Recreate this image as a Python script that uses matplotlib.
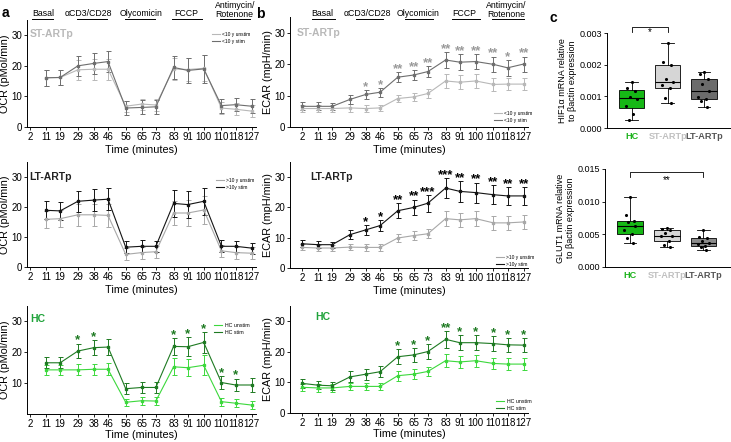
import matplotlib
matplotlib.use("Agg")
import matplotlib.pyplot as plt
import matplotlib.transforms as mtrans
from matplotlib.lines import Line2D
import numpy as np

plt.rcParams['font.family'] = ['Liberation Sans', 'DejaVu Sans']

W, H = 731, 442

times = [2, 11, 19, 29, 38, 46, 56, 65, 73, 83, 91, 100, 110, 118, 127]
ocr_times = times[1:]

# OCR (pMol/min), panel a -- no reading at 2 min
ocr_st_unstim = [16.1, 16.2, 18.7, 18.9, 18.9, 6.8, 7.5, 7.2, 19, 18.8, 19.2, 6.2, 5.8, 5.2]
ocr_st_unstim_err = [2.6, 2.6, 3.2, 3.4, 3.5, 1.8, 1.8, 2, 3.6, 3.8, 4.2, 2, 2, 2]
ocr_st_stim = [16.1, 16.2, 20, 20.8, 21.4, 6.2, 6.4, 6.6, 19.5, 18.5, 19, 7, 7.3, 6.8]
ocr_st_stim_err = [2.6, 2.6, 3.2, 3.4, 3.5, 2.2, 2.3, 2.3, 3.8, 4.2, 4.5, 2.3, 2.2, 2.2]

ocr_lt_unstim = [15.9, 16.1, 17.4, 17.4, 17.2, 4.2, 4.8, 5.1, 18, 18, 19, 5.4, 4.8, 4.6]
ocr_lt_unstim_err = [2.8, 2.8, 3.6, 3.6, 3.7, 2, 2, 2, 4, 4.3, 4.6, 2, 2, 2]
ocr_lt_stim = [18.9, 18.7, 21.9, 22.3, 22.6, 6.6, 6.9, 6.9, 21.2, 20.8, 21.9, 6.9, 6.9, 6.3]
ocr_lt_stim_err = [3, 3, 3.5, 3.7, 3.6, 2, 2, 1.8, 4.4, 4.6, 4.5, 2, 1.8, 1.8]

ocr_hc_unstim = [14.3, 14.3, 14.3, 14.5, 14.5, 3.8, 4.3, 4.2, 15.3, 15, 15.8, 4, 3.5, 2.9]
ocr_hc_unstim_err = [1.6, 1.6, 1.8, 1.8, 1.9, 1.1, 1.3, 1.2, 2.8, 2.8, 3.2, 1.3, 1.3, 1.2]
ocr_hc_stim = [16.6, 16.6, 20.4, 21.5, 21.7, 8.2, 8.6, 8.6, 21.9, 21.8, 23.2, 10.2, 9.4, 9.4]
ocr_hc_stim_err = [1.8, 1.8, 2.4, 2.5, 2.6, 1.8, 1.8, 1.8, 2.8, 3, 3.4, 2.2, 2.1, 2.2]
ocr_hc_sig = ["", "", "*", "*", "", "", "", "", "*", "*", "*", "*", "*", ""]

# ECAR (mpH/min), panel b
ecar_st_unstim = [5.9, 5.9, 5.9, 6.1, 5.9, 6.1, 9.1, 9.6, 10.7, 14.7, 14.3, 14.7, 13.6, 13.7, 13.7]
ecar_st_unstim_err = [1.1, 1.1, 1.1, 1.2, 1.0, 1.0, 1.2, 1.2, 1.3, 2.2, 2.2, 2.3, 2.0, 2.0, 2.0]
ecar_st_stim = [6.6, 6.6, 6.6, 8.8, 10.4, 11.1, 15.9, 16.6, 17.7, 21.4, 20.7, 20.9, 20, 18.9, 20.1]
ecar_st_stim_err = [1.3, 1.3, 1.2, 1.4, 1.4, 1.4, 1.6, 1.6, 1.8, 2.4, 2.6, 2.5, 2.5, 2.6, 2.4]
ecar_st_sig = ["", "", "", "", "*", "*", "**", "**", "**", "**", "**", "**", "**", "*", "**"]

ecar_lt_unstim = [6.8, 6.6, 6.6, 6.9, 6.8, 6.8, 9.9, 10.7, 11.3, 16.3, 15.9, 16.3, 14.9, 14.9, 15.2]
ecar_lt_unstim_err = [1, 1, 1, 1.1, 1.1, 1.1, 1.4, 1.5, 1.5, 2.4, 2.4, 2.4, 2.3, 2.2, 2.2]
ecar_lt_stim = [8, 7.7, 7.7, 11, 12.6, 14, 18.9, 20, 21.4, 26.4, 25.3, 24.9, 24.2, 23.8, 23.8]
ecar_lt_stim_err = [1.2, 1.1, 1.0, 1.4, 1.6, 1.8, 2.4, 2.6, 2.8, 3.2, 3.4, 3.3, 3.1, 3.0, 3.0]
ecar_lt_sig = ["", "", "", "", "*", "*", "**", "**", "***", "***", "**", "**", "**", "**", "**"]

ecar_hc_unstim = [8.4, 8.2, 8.2, 8.7, 8.7, 8.7, 12.2, 12.7, 13.6, 17.1, 16.7, 17.1, 16.2, 16, 16]
ecar_hc_unstim_err = [1.2, 1.2, 1.2, 1.2, 1.2, 1.2, 1.6, 1.6, 1.6, 2.2, 2.0, 2.0, 1.9, 1.9, 1.9]
ecar_hc_stim = [9.7, 9.1, 8.9, 11.8, 12.7, 13.5, 18.4, 19, 20.1, 24.1, 23, 23, 22.7, 22.3, 22.2]
ecar_hc_stim_err = [1.5, 1.4, 1.4, 1.8, 1.8, 1.8, 2.4, 2.3, 2.4, 2.7, 2.4, 2.5, 2.4, 2.3, 2.3]
ecar_hc_sig = ["", "", "", "", "", "", "*", "*", "*", "**", "*", "*", "*", "*", "*"]

# panel c, mRNA relative to beta-actin
groups = ["HC", "ST-ARTp", "LT-ARTp"]
hif1a_hc = [0.00146, 0.00125, 0.00118, 0.00097, 0.00092, 0.00070, 0.00045, 0.00025]
hif1a_st = [0.0027, 0.00207, 0.0020, 0.00155, 0.00145, 0.00135, 0.00125, 0.00095, 0.00078]
hif1a_lt = [0.00178, 0.00172, 0.00155, 0.00138, 0.00118, 0.00097, 0.00092, 0.00085, 0.00065]
glut1_hc = [0.0107, 0.0080, 0.0071, 0.0069, 0.0062, 0.0057, 0.0050, 0.0045, 0.0037]
glut1_st = [0.0060, 0.0058, 0.0056, 0.0052, 0.0048, 0.0047, 0.0040, 0.0034, 0.0030]
glut1_lt = [0.0056, 0.0046, 0.0044, 0.0040, 0.0037, 0.0035, 0.0032, 0.0030, 0.0026]
jitter = [0.0, -0.12, 0.1, -0.05, 0.14, -0.15, 0.05, -0.08, 0.08]

treatments = ["Basal", "\u03b1CD3/CD28", "Olycomicin", "FCCP", "Antimycin/\nRotenone"]

GREEN = "#1fa33a"
DKGREEN = "#1e7a22"
LTGREEN = "#3cd83c"

fig = plt.figure(figsize=(W / 100, H / 100), dpi=100)


def px_ax(l, t, r, b):
    return fig.add_axes([l / W, 1 - b / H, (r - l) / W, (b - t) / H])


def ftext(x, y, s, **kw):
    fig.text(x / W, 1 - y / H, s, **kw)


def line_panel(ax, t, unstim, e_u, stim, e_s, c_u, c_s, xlim, ylabel, sig=None,
               sig_color="k", xpad=2):
    ax.errorbar(t, unstim, yerr=e_u, color=c_u, lw=0.8, elinewidth=0.7, capsize=1.8,
                capthick=0.7, marker="s", ms=1.5)
    ax.errorbar(t, stim, yerr=e_s, color=c_s, lw=0.8, elinewidth=0.7, capsize=1.8,
                capthick=0.7, marker="s", ms=1.5)
    if sig:
        for x, m, e, s in zip(t, stim, e_s, sig):
            if s:
                ax.text(x, m + e, s, ha="center", va="baseline", fontsize=9.5,
                        color=sig_color, fontweight="bold")
    ax.set_xlim(*xlim)
    ax.set_ylim(0, 35)
    ax.set_xticks(times)
    ax.set_xticklabels([str(v) for v in times])
    ax.set_yticks([0, 10, 20, 30])
    ax.tick_params(axis="both", labelsize=7, length=2, width=0.6, pad=1.5)
    ax.set_xlabel("Time (minutes)", fontsize=7.8, labelpad=xpad)
    ax.set_ylabel(ylabel, fontsize=7.8, labelpad=1)
    for side in ("top", "right"):
        ax.spines[side].set_visible(False)
    for side in ("left", "bottom"):
        ax.spines[side].set_linewidth(0.7)
    return c_u, c_s


def legend_at(ax, x, y, labels, cols, fs=3.5):
    handles = [Line2D([], [], color=c, lw=0.8) for c in cols]
    ax.legend(handles, labels, loc="upper left",
              bbox_to_anchor=(x / W, 1 - y / H), bbox_transform=fig.transFigure,
              fontsize=fs, frameon=False, handlelength=1.6, handletextpad=0.5,
              borderpad=0, borderaxespad=0, labelspacing=0.35)


def treat_labels(ax, spans, centers):
    tr = mtrans.blended_transform_factory(ax.transData, fig.transFigure)
    for name, (x0, x1), xc in zip(treatments, spans, centers):
        if "\n" in name:
            ax.text(xc, 1 - 10 / H, name, transform=tr, ha="center", va="center",
                    fontsize=6.3, linespacing=1.1)
        else:
            ax.text(xc, 1 - 14 / H, name, transform=tr, ha="center", va="center", fontsize=6.3)
        ax.plot([x0, x1], [1 - 18.5 / H] * 2, transform=tr, color="k", lw=0.7, clip_on=False)


a_xlim = (0.3, 129.5)
b_xlim = (-4.8, 129.5)

# ---- panel a
ax1 = px_ax(27, 20, 256, 127)
cols = line_panel(ax1, ocr_times, ocr_st_unstim, ocr_st_unstim_err, ocr_st_stim, ocr_st_stim_err,
                  "#b8b8b8", "#6e6e6e", a_xlim, "OCR (pMol/min)")
legend_at(ax1, 212, 32, ["<10 y unstim", "<10 y stim"], cols)
treat_labels(ax1, [(3, 15), (28.5, 45.3), (55.5, 72.4), (82, 98.8), (109, 126)],
             [9.3, 35.2, 64.5, 90, 117.5])

ax2 = px_ax(27, 162, 256, 267)
cols = line_panel(ax2, ocr_times, ocr_lt_unstim, ocr_lt_unstim_err, ocr_lt_stim, ocr_lt_stim_err,
                  "#a8a8a8", "#141414", a_xlim, "OCR (pMol/min)")
legend_at(ax2, 216, 178, [">10 y unstim", ">10y stim"], cols)

ax3 = px_ax(27, 306, 256, 414)
cols = line_panel(ax3, ocr_times, ocr_hc_unstim, ocr_hc_unstim_err, ocr_hc_stim, ocr_hc_stim_err,
                  LTGREEN, DKGREEN, a_xlim, "OCR (pMol/min)", ocr_hc_sig, DKGREEN, xpad=0.5)
ax3.set_yticks([10, 20, 30])
legend_at(ax3, 214, 323, ["HC unstim", "HC stim"], cols, fs=3.8)

# ---- panel b
bx1 = px_ax(290, 17.4, 528, 127)
cols = line_panel(bx1, times, ecar_st_unstim, ecar_st_unstim_err, ecar_st_stim, ecar_st_stim_err,
                  "#b8b8b8", "#6e6e6e", b_xlim, "ECAR (mpH/min)", ecar_st_sig, "#9a9a9a")
legend_at(bx1, 494, 111, ["<10 y unstim", "<10 y stim"], cols)
treat_labels(bx1, [(7.6, 20.5), (32.4, 47.6), (60, 75.7), (86.4, 102.2), (109, 127.5)],
             [13.2, 38.8, 67.3, 93.7, 117])

bx2 = px_ax(290, 162, 528, 268)
cols = line_panel(bx2, times, ecar_lt_unstim, ecar_lt_unstim_err, ecar_lt_stim, ecar_lt_stim_err,
                  "#a8a8a8", "#141414", b_xlim, "ECAR (mpH/min)", ecar_lt_sig, "k")
legend_at(bx2, 496, 255, [">10 y unstim", ">10y stim"], cols)

bx3 = px_ax(290, 306, 528, 413)
cols = line_panel(bx3, times, ecar_hc_unstim, ecar_hc_unstim_err, ecar_hc_stim, ecar_hc_stim_err,
                  LTGREEN, DKGREEN, b_xlim, "ECAR (mpH/min)", ecar_hc_sig, DKGREEN, xpad=0.5)
legend_at(bx3, 496, 399, ["HC unstim", "HC stim"], cols, fs=3.8)

# panel names
ftext(30, 34, "ST-ARTp", fontsize=7.5, fontweight="bold", color="#b8b8b8", va="center")
ftext(29, 177, "LT-ARTp", fontsize=7.5, fontweight="bold", color="#222222", va="center")
ftext(30, 319, "HC", fontsize=7.5, fontweight="bold", color=GREEN, va="center")
ftext(297, 33, "ST-ARTp", fontsize=7.5, fontweight="bold", color="#b8b8b8", va="center")
ftext(310, 177, "LT-ARTp", fontsize=7.5, fontweight="bold", color="#222222", va="center")
ftext(315, 317, "HC", fontsize=7.5, fontweight="bold", color=GREEN, va="center")


# ---- panel c
def box_panel(ax, data, ylim, yticks, ylabel, colors, bracket, star, star_y, bar_y, leg_y):
    pos = np.arange(len(data))
    bp = ax.boxplot(data, positions=pos, widths=0.7, whis=(0, 100), patch_artist=True,
                    showfliers=False,
                    medianprops=dict(color="k", lw=0.8),
                    boxprops=dict(lw=0.6, color="k"),
                    whiskerprops=dict(lw=0.6), capprops=dict(lw=0.6))
    for patch, c in zip(bp["boxes"], colors):
        patch.set_facecolor(c)
    for i, vals in enumerate(data):
        ax.scatter(i + np.array(jitter[:len(vals)]), vals, s=5, color="k", zorder=3, lw=0)
    x0, x1 = bracket
    ax.plot([x0, x0, x1, x1], [leg_y, bar_y, bar_y, leg_y], color="k", lw=0.6, clip_on=False)
    ax.text((x0 + x1) / 2, star_y, star, ha="center", va="center", fontsize=7)
    ax.set_xlim(-0.68, 2.75)
    ax.set_ylim(*ylim)
    ax.set_yticks(yticks)
    ax.set_yticklabels(["%.3f" % v for v in yticks])
    ax.set_xticks(pos)
    ax.set_xticklabels(groups, fontweight="bold", fontsize=6.6)
    for lab, c in zip(ax.get_xticklabels(), ["#1db31d", "#c0c0c0", "#555555"]):
        lab.set_color(c)
    ax.tick_params(axis="y", labelsize=6.5, length=2, width=0.6, pad=1.5)
    ax.tick_params(axis="x", length=0, pad=3)
    ax.set_ylabel(ylabel, fontsize=6.5, linespacing=1.1, labelpad=2)
    for side in ("top", "right"):
        ax.spines[side].set_visible(False)
    for side in ("left", "bottom"):
        ax.spines[side].set_linewidth(0.7)


cx1 = px_ax(607, 33, 731, 128)
box_panel(cx1, [hif1a_hc, hif1a_st, hif1a_lt], (0, 0.003), [0, 0.001, 0.002, 0.003],
          "HIF1\u03b1 mRNA relative\nto \u03b2actin expression",
          ["#16b816", "#d6d6d6", "#6b6b6b"], (0, 1), "*", 0.00302, 0.00319, 0.00303)

cx2 = px_ax(605, 169, 731, 267)
box_panel(cx2, [glut1_hc, glut1_st, glut1_lt], (0, 0.015), [0, 0.005, 0.010, 0.015],
          "GLUT1 mRNA relative\nto \u03b2actin expression",
          ["#16b816", "#d6d6d6", "#8a8a8a"], (0, 2), "**", 0.0133, 0.0145, 0.0138)

ftext(2, 13, "a", fontsize=10, fontweight="bold", va="center")
ftext(256, 14, "b", fontsize=10, fontweight="bold", va="center")
ftext(549, 18, "c", fontsize=10, fontweight="bold", va="center")

fig.savefig("out.png", dpi=100)
